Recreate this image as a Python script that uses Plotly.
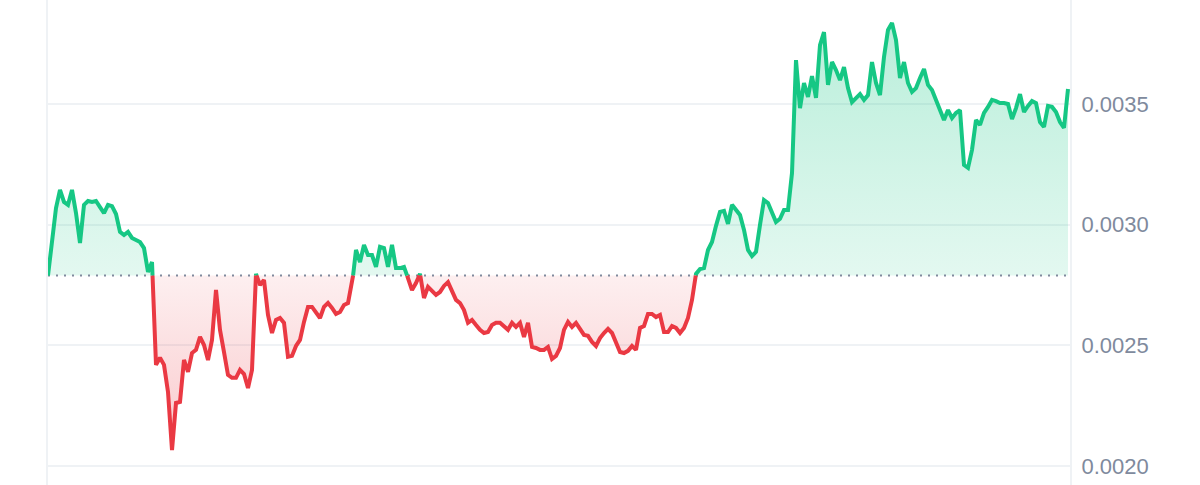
import plotly.graph_objects as go

# price samples, one every step of the (hidden) time axis
prices = [
    0.002789, 0.002945, 0.003069, 0.003144, 0.003094, 0.003082, 0.003144, 0.003048,
    0.002924, 0.003082, 0.003098, 0.003094, 0.003098, 0.003073, 0.003048, 0.003082,
    0.003077, 0.003044, 0.002970, 0.002957, 0.002970, 0.002945, 0.002937, 0.002928,
    0.002903, 0.002804, 0.002845, 0.002419, 0.002448, 0.002419, 0.002307, 0.002066,
    0.002261, 0.002265, 0.002439, 0.002390, 0.002468, 0.002481, 0.002535, 0.002501,
    0.002439, 0.002522, 0.002729, 0.002564, 0.002472, 0.002377, 0.002365, 0.002365,
    0.002398, 0.002381, 0.002323, 0.002398, 0.002796, 0.002750, 0.002771, 0.002626,
    0.002551, 0.002605, 0.002613, 0.002593, 0.002452, 0.002456, 0.002497, 0.002522,
    0.002597, 0.002659, 0.002659, 0.002638, 0.002613, 0.002659, 0.002675, 0.002655,
    0.002630, 0.002638, 0.002667, 0.002675, 0.002750, 0.002895, 0.002845, 0.002916,
    0.002874, 0.002874, 0.002825, 0.002908, 0.002903, 0.002825, 0.002916, 0.002820,
    0.002820, 0.002825, 0.002779, 0.002729, 0.002758, 0.002796, 0.002696, 0.002742,
    0.002725, 0.002709, 0.002721, 0.002746, 0.002762, 0.002729, 0.002688, 0.002675,
    0.002646, 0.002593, 0.002605, 0.002584, 0.002564, 0.002551, 0.002555, 0.002584,
    0.002593, 0.002593, 0.002580, 0.002564, 0.002593, 0.002576, 0.002593, 0.002535,
    0.002593, 0.002493, 0.002489, 0.002481, 0.002481, 0.002493, 0.002443, 0.002456,
    0.002489, 0.002564, 0.002597, 0.002576, 0.002593, 0.002564, 0.002543, 0.002539,
    0.002514, 0.002497, 0.002530, 0.002551, 0.002568, 0.002551, 0.002510, 0.002472,
    0.002468, 0.002477, 0.002497, 0.002481, 0.002572, 0.002580, 0.002630, 0.002630,
    0.002617, 0.002626, 0.002555, 0.002555, 0.002580, 0.002572, 0.002551, 0.002572,
    0.002613, 0.002688, 0.002796, 0.002816, 0.002820, 0.002895, 0.002928, 0.002995,
    0.003053, 0.003057, 0.003003, 0.003082, 0.003061, 0.003040, 0.002978, 0.002895,
    0.002870, 0.002887, 0.002999, 0.003102, 0.003090, 0.003053, 0.003011, 0.003024,
    0.003061, 0.003061, 0.003214, 0.003682, 0.003483, 0.003587, 0.003529, 0.003616,
    0.003525, 0.003744, 0.003798, 0.003579, 0.003674, 0.003641, 0.003599, 0.003653,
    0.003566, 0.003508, 0.003525, 0.003541, 0.003517, 0.003537, 0.003674, 0.003587,
    0.003537, 0.003695, 0.003807, 0.003836, 0.003765, 0.003608, 0.003674, 0.003587,
    0.003550, 0.003566, 0.003608, 0.003645, 0.003579, 0.003558, 0.003517, 0.003475,
    0.003434, 0.003475, 0.003442, 0.003463, 0.003475, 0.003247, 0.003235, 0.003310,
    0.003434, 0.003413, 0.003463, 0.003488, 0.003517, 0.003512, 0.003504, 0.003504,
    0.003500, 0.003438, 0.003483, 0.003541, 0.003467, 0.003492, 0.003512, 0.003504,
    0.003425, 0.003405, 0.003492, 0.003488, 0.003467, 0.003425, 0.003401, 0.003562,
]
open_price = 0.002789
tick_values = [0.0020, 0.0025, 0.0030, 0.0035]
tick_labels = ['0.0020', '0.0025', '0.0030', '0.0035']

GREEN = '#16c784'
RED = '#ea3943'
GRID = '#eff2f5'
LABEL = '#808a9d'

# add a point wherever the price crosses the opening price, so both colours meet on it
xs, ys = [], []
for i, p in enumerate(prices):
    if i > 0 and (prices[i - 1] - open_price) * (p - open_price) < 0:
        frac = (open_price - prices[i - 1]) / (p - prices[i - 1])
        xs.append(i - 1 + frac)
        ys.append(open_price)
    xs.append(i)
    ys.append(p)

base = [open_price] * len(xs)
no_line = dict(width=0)
fig = go.Figure()

# green area over the opening price
fig.add_trace(go.Scatter(x=xs, y=base, mode='lines', line=no_line))
fig.add_trace(go.Scatter(
    x=xs, y=[max(v, open_price) for v in ys], mode='lines', line=no_line, fill='tonexty',
    fillgradient=dict(type='vertical', start=open_price, stop=max(prices),
                      colorscale=[[0, 'rgba(22,199,132,0.12)'], [1, 'rgba(22,199,132,0.30)']]),
))
# red area under it
fig.add_trace(go.Scatter(x=xs, y=base, mode='lines', line=no_line))
fig.add_trace(go.Scatter(
    x=xs, y=[min(v, open_price) for v in ys], mode='lines', line=no_line, fill='tonexty',
    fillgradient=dict(type='vertical', start=min(prices), stop=open_price,
                      colorscale=[[0, 'rgba(234,57,67,0.27)'], [1, 'rgba(234,57,67,0.08)']]),
))

fig.add_trace(go.Scatter(
    x=[0, len(prices) - 1], y=[open_price, open_price], mode='lines',
    line=dict(color=LABEL, width=2, dash='2px,6px'),
))
fig.add_trace(go.Scatter(
    x=xs, y=[v if v >= open_price else None for v in ys], mode='lines',
    line=dict(color=GREEN, width=4),
))
fig.add_trace(go.Scatter(
    x=xs, y=[v if v <= open_price else None for v in ys], mode='lines',
    line=dict(color=RED, width=4),
))

fig.update_layout(
    width=1200,
    height=485,
    margin=dict(l=48, r=130, t=0, b=0, pad=0),
    plot_bgcolor='white',
    paper_bgcolor='white',
    showlegend=False,
    hovermode='x',
    font=dict(family='Liberation Sans, Arial, sans-serif', size=22, color=LABEL),
)
fig.update_xaxes(range=[0, 255.5], visible=False)
fig.update_yaxes(
    range=[0.001921, 0.003931],
    side='right',
    tickvals=tick_values,
    ticktext=tick_labels,
    ticks='',
    ticklabelstandoff=5,
    automargin=False,
    gridcolor=GRID,
    gridwidth=2,
    zeroline=False,
    showline=True,
    mirror=True,
    linecolor=GRID,
    linewidth=2,
)

# drop the page's default margin so the chart fills the window
fig.write_html("out.html", config={'displayModeBar': False},
               post_script="document.body.style.margin='0';")
